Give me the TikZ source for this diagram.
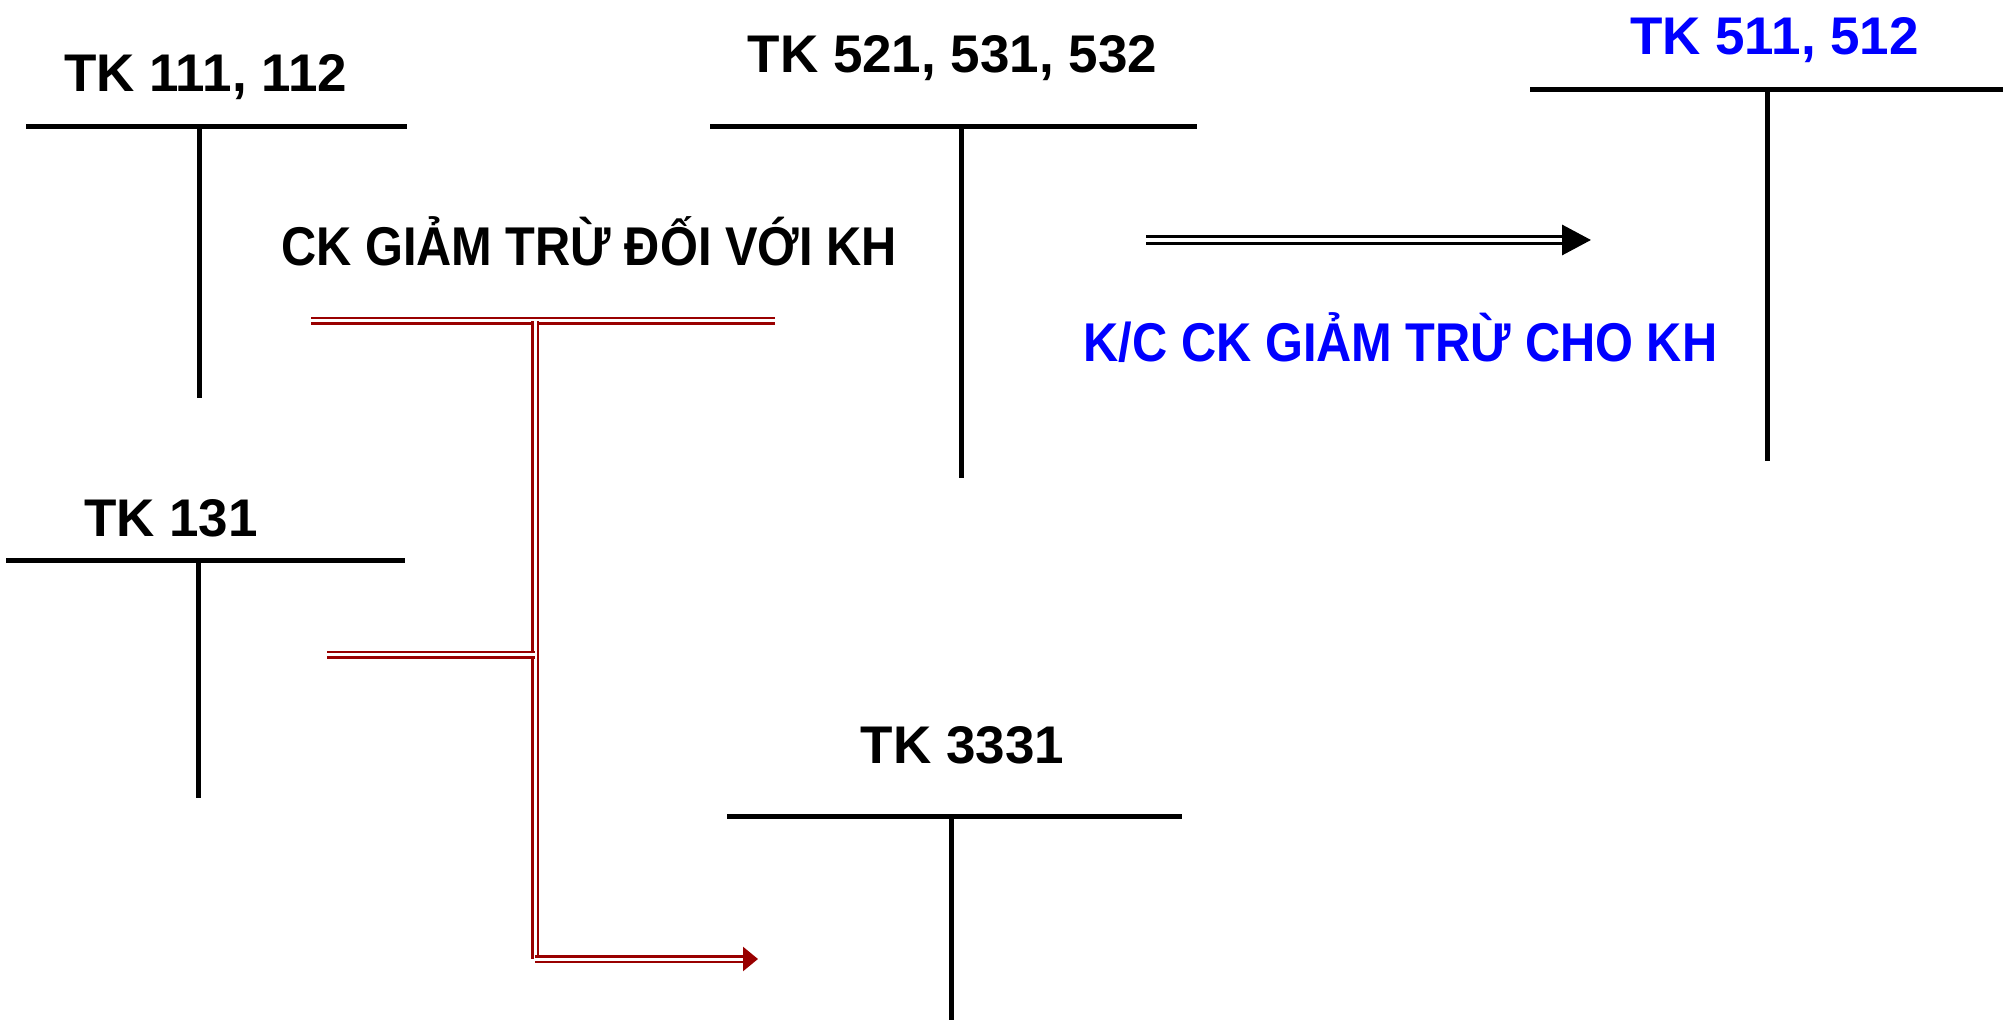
\documentclass[tikz,border=0pt]{standalone}
\usepackage{fontspec}
\setmainfont{Liberation Sans}
\newfontfamily\narrowfont{Liberation Sans}[FakeStretch=0.893]
\usetikzlibrary{arrows.meta, positioning, calc}
\definecolor{ckred}{RGB}{153,0,0}
\definecolor{ckblue}{RGB}{0,0,255}

\begin{document}
\begin{tikzpicture}[
    x=0.5pt, y=-0.5pt,
    tline/.style={draw=black, line width=2.5pt},
    acctitle/.style={inner sep=0pt, anchor=base, font=\bfseries\fontsize{26.5}{30}\selectfont},
    note/.style={inner sep=0pt, anchor=base, font=\narrowfont\bfseries\fontsize{27.3}{32}\selectfont},
    redline/.style={draw=ckred, double=white, line width=1.25pt, double distance=1.5pt},
    redarrow/.style={redline, -{Triangle[length=7.5pt, width=12pt]}},
    kcarrow/.style={draw=black, double=white, line width=1.7pt, double distance=2pt,
        -{Triangle[length=14.5pt, width=15pt]}}
]
\useasboundingbox (0,0) rectangle (2003,1020);

% T accounts
\node[acctitle] (tk111) at (205.5,92) {TK 111, 112};
\draw[tline] (26,127) -- (407,127) (199,127) -- (199,398.5);

\node[acctitle] (tk521) at (952.5,73) {TK 521, 531, 532};
\draw[tline] (710,126.5) -- (1197,126.5) (961,126.5) -- (961,478);

\node[acctitle, ckblue] (tk511) at (1774.5,55) {TK 511, 512};
\draw[tline] (1530,90) -- (2003,90) (1767,90) -- (1767,461);

\node[acctitle] (tk131) at (171,537) {TK 131};
\draw[tline] (6,561) -- (405,561) (198,561) -- (198,798);

\node[acctitle] (tk3331) at (962.5,764) {TK 3331};
\draw[tline] (727,817) -- (1182,817) (951,817) -- (951,1020);

% Entry labels
\node[note] (ckkh) at (589,266) {CK GIẢM TRỪ ĐỐI VỚI KH};
\node[note, ckblue] (kckh) at (1400.5,361.7) {K/C CK GIẢM TRỪ CHO KH};

% Connector points
\coordinate (ckL) at (311,321);
\coordinate (ckR) at (775,321);
\coordinate (ckM) at (535,321);
\coordinate (vatL) at (327,655);
\coordinate (vatM) at (535,655);
\coordinate (bend) at (535,959);
\coordinate (vatEnd) at (758,959);
\coordinate (kcL) at (1146,240);
\coordinate (kcR) at (1591,240);

% Red double lines
\draw[redline] (ckL) -- (ckR);
\draw[redline] (ckM) -- (bend);
\draw[redline] (vatL) -- (vatM);
\draw[redarrow] (bend) -- (vatEnd);

% Closing transfer
\draw[kcarrow] (kcL) -- (kcR);

\end{tikzpicture}
\end{document}
